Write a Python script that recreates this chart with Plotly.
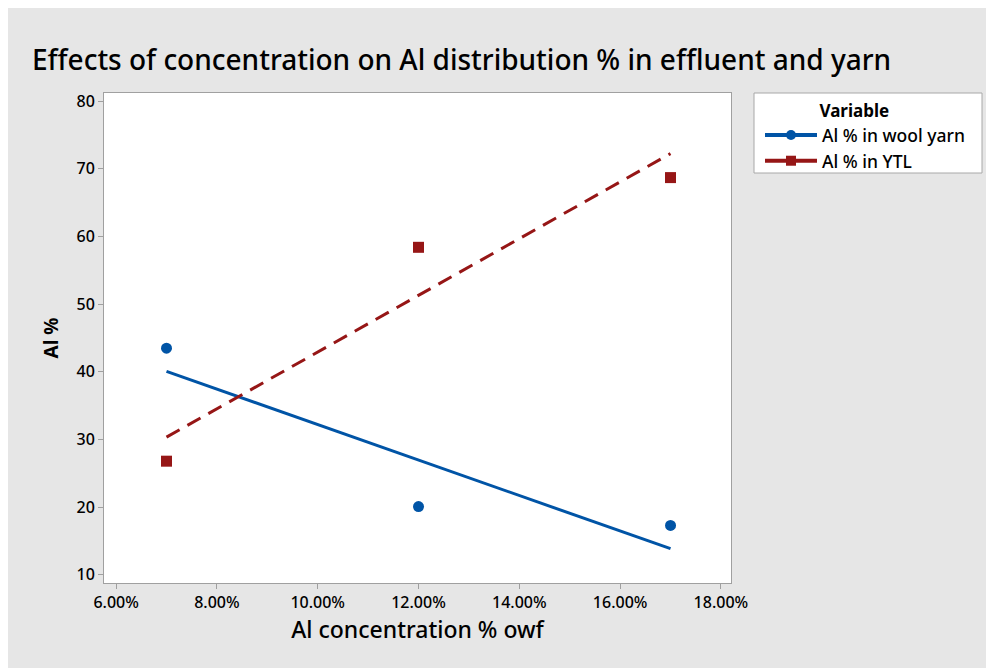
import numpy as np
import plotly.graph_objects as go

# Data
concentration = [7, 12, 17]  # Al concentration % owf
wool_yarn = [43.5, 20.1, 17.3]  # Al % in wool yarn
ytl = [26.8, 58.4, 68.7]  # Al % in YTL
x_ticks = [6, 8, 10, 12, 14, 16, 18]
y_ticks = [10, 20, 30, 40, 50, 60, 70, 80]

BLUE = "#0054a6"
RED = "#961616"
FONT = "Noto Sans"

def fit(xs, ys):
    k, b = np.polyfit(xs, ys, 1)
    xe = [min(xs), max(xs)]
    return xe, [k * v + b for v in xe]

fig = go.Figure()

wx, wy = fit(concentration, wool_yarn)
rx, ry = fit(concentration, ytl)

fig.add_trace(go.Scatter(x=wx, y=wy, mode="lines", line=dict(color=BLUE, width=3),
                         showlegend=False, hoverinfo="skip"))
fig.add_trace(go.Scatter(x=rx, y=ry, mode="lines", line=dict(color=RED, width=3, dash="15px,9px"),
                         showlegend=False, hoverinfo="skip"))
fig.add_trace(go.Scatter(x=concentration, y=wool_yarn, mode="markers",
                         marker=dict(color=BLUE, size=11, symbol="circle"), showlegend=False))
fig.add_trace(go.Scatter(x=concentration, y=ytl, mode="markers",
                         marker=dict(color=RED, size=11, symbol="square"), showlegend=False))
# legend entries
fig.add_trace(go.Scatter(x=[None], y=[None], mode="lines+markers", name="Al % in wool yarn",
                         line=dict(color=BLUE, width=4), marker=dict(color=BLUE, size=10, symbol="circle")))
fig.add_trace(go.Scatter(x=[None], y=[None], mode="lines+markers", name="Al % in YTL",
                         line=dict(color=RED, width=4), marker=dict(color=RED, size=10, symbol="square")))

W, H = 986, 660
L, R, T, B = 96, 263, 85, 85
pw, ph = W - L - R, H - T - B

def px_x(sx):
    return (sx - 8 - L) / pw

def px_y(sy):
    return 1 - (sy - 8 - T) / ph

fig.update_layout(
    width=W, height=H,
    margin=dict(l=L, r=R, t=T, b=B),
    paper_bgcolor="#e6e6e6",
    plot_bgcolor="white",
    font=dict(family=FONT, color="black", size=16),
    title=dict(text="Effects of concentration on Al distribution % in effluent and yarn",
               x=24 / W, xanchor="left", y=1 - 52 / H, yanchor="middle",
               font=dict(family=FONT, size=28, color="black", weight=500)),
    legend=dict(x=px_x(760), xanchor="left", y=px_y(95), yanchor="top",
                bgcolor="rgba(0,0,0,0)", borderwidth=0,
                title=dict(text="&nbsp;" * 13 + "<b>Variable</b>", font=dict(size=17)),
                font=dict(size=17.5, weight=500), tracegroupgap=0, itemwidth=52),
    shapes=[
        dict(type="rect", xref="paper", yref="paper", x0=px_x(754), x1=px_x(982),
             y0=px_y(173), y1=px_y(93), fillcolor="white",
             line=dict(color="#a8a8a8", width=1), layer="below"),
    ],
)
fig.update_xaxes(range=[5.76, 18.2], tickvals=x_ticks, ticktext=[f"{v:.2f}%" for v in x_ticks],
                 tickfont=dict(weight=500),
                 showgrid=False, zeroline=False, showline=True, linecolor="#a0a0a0", mirror=True,
                 ticks="outside", ticklen=5, tickcolor="#a0a0a0",
                 title=dict(text="Al concentration % owf", font=dict(size=23, weight=500), standoff=9))
fig.update_yaxes(range=[8.8, 81.2], tickvals=y_ticks,
                 tickfont=dict(weight=500),
                 showgrid=False, zeroline=False, showline=True, linecolor="#a0a0a0", mirror=True,
                 ticks="outside", ticklen=5, tickcolor="#a0a0a0",
                 title=dict(text="<b>Al %</b>", font=dict(size=19), standoff=12))

fig.write_html("out.html")
